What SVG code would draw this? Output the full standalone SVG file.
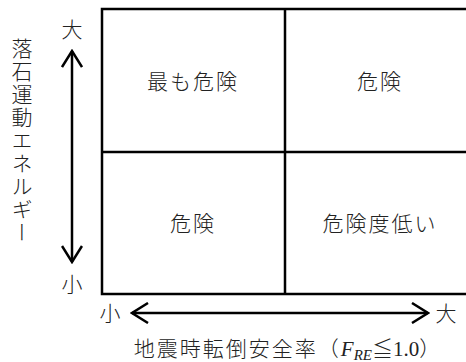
<svg xmlns="http://www.w3.org/2000/svg" width="466" height="362" viewBox="0 0 466 362">
<defs>
<style>
.t{font-family:"Liberation Serif","Noto Sans CJK JP",serif;font-size:21px;font-weight:300;fill:#222}
.c{text-anchor:middle}
.ln{stroke:#000;stroke-width:2.5;fill:none}
.ar{stroke:#000;stroke-width:2.5;fill:none}
</style>
<marker id="head" viewBox="0 0 19 22" refX="17" refY="11" markerWidth="19" markerHeight="22" markerUnits="userSpaceOnUse" orient="auto-start-reverse">
<path d="M1,1 L17,11 L1,21" stroke="#000" stroke-width="2.5" fill="none"/>
</marker>
</defs>
<rect width="466" height="362" fill="#fff"/>
<g id="grid">
<rect class="ln" x="102" y="9" width="373" height="285"/>
<line class="ln" x1="102" y1="152" x2="475" y2="152"/>
<line class="ln" x1="285" y1="9" x2="285" y2="294"/>
</g>
<g id="cell-tl"><text class="t c" x="193" y="89" letter-spacing="2">最も危険</text></g>
<g id="cell-tr"><text class="t c" x="380" y="89" letter-spacing="2">危険</text></g>
<g id="cell-bl"><text class="t c" x="193" y="231" letter-spacing="2">危険</text></g>
<g id="cell-br"><text class="t c" x="380" y="231" letter-spacing="2">危険度低い</text></g>
<g id="connectors">
<line class="ar" x1="72" y1="51" x2="72" y2="262" marker-start="url(#head)" marker-end="url(#head)"/>
<line class="ar" x1="132" y1="313" x2="428" y2="313" marker-start="url(#head)" marker-end="url(#head)"/>
</g>
<g id="axis-labels">
<text class="t c" x="72" y="37">大</text>
<text class="t c" x="72" y="292">小</text>
<text class="t c" x="110" y="321">小</text>
<text class="t c" x="446" y="321">大</text>
<text class="t" x="20" y="38" writing-mode="vertical-rl" letter-spacing="2">落石運動エネルギー</text>
<text class="t c" x="287" y="356"><tspan letter-spacing="2">地震時転倒安全率（</tspan><tspan font-style="italic">F</tspan><tspan font-style="italic" font-size="15" dy="4">RE</tspan><tspan dy="-4">≦1.0）</tspan></text>
</g>
</svg>
